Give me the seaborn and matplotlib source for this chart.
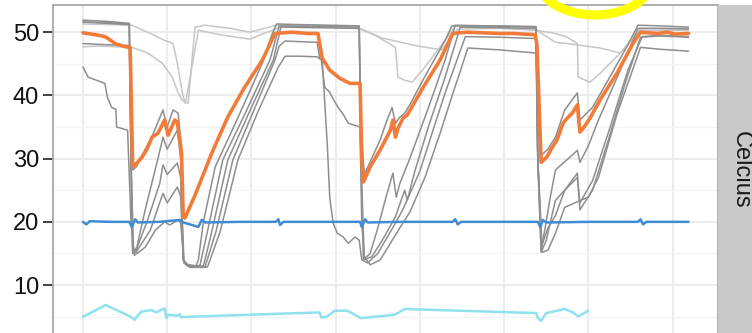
import matplotlib
matplotlib.use("Agg")
import matplotlib.pyplot as plt
from matplotlib.patches import Ellipse
from matplotlib.ticker import MultipleLocator
import pandas as pd
import seaborn as sns

# Time is in days since the start of the log; temperatures in degrees Celsius.

# Highlighted tank sensor
sensor_t = [0.00, 0.15, 0.26, 0.32, 0.38, 0.50, 0.56, 0.59, 0.64, 0.70, 0.76, 0.82, 0.89, 0.97,
            1.01, 1.09, 1.12, 1.17, 1.19, 1.21, 1.33, 1.53, 1.72, 1.92, 2.13, 2.28, 2.48, 2.67,
            2.79, 2.84, 2.93, 3.05, 3.17, 3.29, 3.31, 3.33, 3.41, 3.53, 3.65, 3.68, 3.71, 3.74,
            3.80, 3.85, 4.04, 4.24, 4.39, 4.56, 4.95, 5.10, 5.37, 5.39, 5.44, 5.51, 5.55, 5.63,
            5.70, 5.75, 5.81, 5.87, 5.90, 5.94, 6.02, 6.14, 6.34, 6.53, 6.62, 6.82, 6.94, 7.03, 7.19]
sensor_c = [49.9, 49.6, 49.3, 48.8, 48.2, 47.7, 47.6, 28.7, 29.3, 30.2, 31.5, 33.4, 34.0, 36.1,
            33.7, 36.1, 35.8, 30.9, 20.8, 20.6, 24.2, 30.9, 36.6, 41.3, 45.6, 49.8, 50.0, 49.8,
            49.8, 45.9, 44.0, 42.7, 41.9, 41.9, 30.0, 26.3, 28.7, 31.4, 34.5, 36.1, 33.4, 34.8,
            36.4, 36.9, 41.3, 45.6, 49.8, 50.0, 49.8, 49.8, 49.6, 48.0, 29.4, 30.3, 31.3, 33.0,
            35.6, 36.4, 37.2, 38.5, 34.2, 34.8, 36.4, 39.3, 43.5, 48.2, 50.0, 49.8, 50.0, 49.7, 49.8]

# Other tank sensors
t1_t = [0.00, 0.30, 0.55, 0.57, 0.59, 0.63, 0.80, 0.91, 0.95, 1.00, 1.12, 1.16, 1.19, 1.22, 1.34,
        1.37, 1.43, 1.57, 1.81, 2.13, 2.24, 2.30, 2.58, 2.93, 3.28, 3.30, 3.33, 3.41, 3.50, 3.60,
        3.68, 3.72, 3.76, 3.88, 4.10, 4.30, 4.42, 4.83, 5.38, 5.40, 5.44, 5.50, 5.55, 5.61, 5.72,
        5.87, 5.90, 6.00, 6.12, 6.38, 6.59, 6.85, 7.19]
t1_c = [51.9, 51.7, 51.4, 30.0, 15.0, 15.2, 18.7, 23.0, 24.5, 23.0, 25.5, 24.0, 14.0, 13.3, 12.9,
        14.0, 20.0, 28.7, 35.6, 45.1, 49.5, 51.3, 51.2, 51.1, 51.0, 30.0, 14.0, 15.0, 19.0, 24.0,
        27.7, 23.9, 26.0, 30.0, 38.0, 45.6, 51.1, 51.0, 50.8, 30.0, 15.5, 20.0, 24.0, 28.2, 29.5,
        31.3, 29.4, 32.0, 36.1, 44.0, 50.6, 50.6, 50.5]

t2_t = [0.00, 0.30, 0.55, 0.57, 0.59, 0.63, 0.76, 0.91, 0.95, 1.00, 1.12, 1.16, 1.19, 1.24, 1.37,
        1.39, 1.47, 1.66, 1.92, 2.22, 2.33, 2.70, 3.28, 3.30, 3.34, 3.43, 3.55, 3.71, 3.82, 3.85,
        3.94, 4.10, 4.30, 4.48, 4.95, 5.38, 5.40, 5.44, 5.50, 5.55, 5.61, 5.72, 5.87, 5.90, 6.05,
        6.24, 6.44, 6.62, 6.85, 7.19]
t2_c = [51.6, 51.4, 51.2, 30.0, 15.2, 15.5, 20.0, 26.0, 29.0, 27.5, 29.3, 27.0, 14.0, 13.0, 13.0,
        13.2, 18.0, 29.8, 37.0, 45.6, 51.0, 50.9, 50.8, 30.0, 14.0, 14.5, 17.0, 20.8, 25.0, 23.4,
        28.0, 35.0, 42.9, 50.8, 50.7, 50.6, 30.0, 15.2, 17.0, 20.0, 23.4, 25.0, 27.7, 21.9, 25.0,
        33.0, 42.0, 49.2, 49.4, 49.2]

t3_t = [0.00, 0.30, 0.55, 0.57, 0.59, 0.64, 0.70, 0.82, 0.95, 1.00, 1.07, 1.13, 1.16, 1.18, 1.20,
        1.25, 1.35, 1.45, 1.58, 1.78, 2.04, 2.28, 2.33, 2.40, 2.58, 2.78, 2.81, 2.84, 2.90, 2.93,
        2.97, 3.02, 3.09, 3.15, 3.23, 3.28, 3.31, 3.38, 3.50, 3.61, 3.71, 3.80, 4.00, 4.12, 4.30,
        4.54, 4.95, 5.38, 5.40, 5.45, 5.52, 5.61, 5.72, 5.84, 6.00, 6.12, 6.34, 6.62, 6.85, 7.19]
t3_c = [48.2, 48.0, 47.9, 35.0, 28.2, 28.8, 30.5, 33.5, 37.7, 35.0, 37.7, 37.2, 33.0, 20.0, 13.5,
        13.0, 13.0, 12.9, 18.5, 29.8, 38.0, 45.6, 47.8, 48.6, 48.5, 48.4, 46.0, 45.6, 32.4, 23.9,
        19.8, 18.2, 17.6, 16.6, 17.6, 17.1, 14.0, 13.5, 15.0, 17.5, 19.8, 22.0, 28.0, 33.0, 40.4,
        49.3, 49.2, 49.0, 30.0, 15.2, 15.5, 18.2, 22.3, 23.0, 23.9, 27.0, 37.0, 47.6, 47.3, 47.0]

t4_t = [0.00, 0.06, 0.26, 0.29, 0.34, 0.39, 0.40, 0.53, 0.57, 0.61, 0.74, 0.86, 0.97, 1.03, 1.13,
        1.16, 1.20, 1.27, 1.45, 1.48, 1.63, 1.84, 2.08, 2.32, 2.40, 2.58, 2.78, 2.83, 2.87, 2.93,
        2.96, 3.03, 3.09, 3.15, 3.29, 3.31, 3.34, 3.41, 3.53, 3.65, 3.76, 3.88, 4.06, 4.24, 4.36,
        4.57, 4.95, 5.38, 5.40, 5.45, 5.52, 5.61, 5.72, 5.87, 5.90, 6.05, 6.26, 6.47, 6.64, 6.85, 7.19]
t4_c = [44.5, 42.9, 41.9, 39.7, 38.1, 37.8, 35.0, 34.5, 20.0, 14.7, 16.0, 18.7, 20.0, 19.5, 20.3,
        19.8, 13.5, 12.8, 12.8, 12.9, 18.5, 29.8, 37.5, 44.5, 46.2, 46.2, 46.1, 45.6, 41.3, 40.5,
        39.7, 38.1, 37.0, 35.6, 35.0, 20.0, 14.5, 13.2, 14.0, 16.6, 19.0, 21.5, 27.0, 34.0, 39.0,
        47.5, 47.2, 46.7, 30.0, 16.3, 19.0, 21.0, 25.0, 27.0, 23.0, 26.5, 35.0, 44.0, 49.3, 49.5, 49.3]

t5_t = [0.00, 0.30, 0.55, 0.57, 0.60, 0.64, 0.74, 0.89, 0.95, 1.00, 1.12, 1.16, 1.19, 1.25, 1.39,
        1.43, 1.53, 1.72, 1.98, 2.26, 2.35, 2.81, 3.28, 3.30, 3.34, 3.41, 3.53, 3.61, 3.67, 3.71,
        3.76, 3.82, 3.88, 4.06, 4.30, 4.38, 4.83, 5.38, 5.40, 5.44, 5.52, 5.61, 5.72, 5.87, 5.90,
        6.05, 6.26, 6.47, 6.59, 6.85, 7.19]
t5_c = [51.6, 51.5, 51.3, 30.0, 15.2, 16.0, 22.0, 30.0, 33.4, 31.5, 34.5, 30.0, 14.0, 13.2, 13.0,
        13.0, 18.5, 29.8, 37.5, 45.6, 50.8, 50.7, 50.6, 35.0, 27.5, 29.5, 33.0, 36.1, 38.1, 35.6,
        36.5, 37.2, 38.5, 43.0, 48.7, 51.0, 51.0, 50.9, 35.0, 30.5, 31.5, 33.4, 37.7, 40.4, 36.1,
        38.1, 43.0, 48.0, 51.1, 51.0, 50.8]

# Upper sensors that only cool off slowly between heating cycles
u1_t = [0.00, 0.30, 0.58, 0.80, 0.97, 1.07, 1.12, 1.18, 1.21, 1.25, 1.33, 1.45, 1.75, 1.98, 2.30,
        2.76, 3.27, 3.47, 3.71, 3.74, 3.82, 3.91, 4.06, 4.30, 4.42, 4.95, 5.39, 5.61, 5.75, 5.87,
        5.88, 6.02, 6.14, 6.38, 6.62, 7.19]
u1_c = [51.3, 51.2, 51.1, 49.8, 48.7, 48.2, 45.1, 40.4, 38.8, 38.8, 50.8, 51.1, 50.6, 50.0, 51.1,
        51.1, 50.6, 49.5, 47.6, 42.9, 42.4, 42.1, 44.5, 48.7, 51.0, 50.8, 50.3, 49.8, 49.2, 48.2,
        42.9, 42.1, 43.5, 46.7, 50.6, 50.6]

u2_t = [0.00, 0.20, 0.58, 0.77, 0.94, 1.06, 1.13, 1.18, 1.22, 1.37, 1.63, 1.98, 2.34, 2.76, 3.29,
        3.55, 3.94, 4.26, 4.45, 4.95, 5.39, 5.61, 5.75, 6.14, 6.38, 6.62, 7.19]
u2_c = [47.7, 47.8, 47.6, 46.7, 45.1, 42.9, 40.4, 39.2, 39.0, 50.3, 49.6, 48.9, 50.8, 50.9, 50.6,
        49.1, 47.9, 47.2, 50.5, 50.6, 50.3, 48.4, 48.2, 47.5, 46.7, 50.3, 50.3]

# Room temperature
room_t = [0.00, 0.04, 0.08, 0.32, 0.55, 0.58, 0.62, 0.65, 0.91, 1.15, 1.19, 1.37, 1.41, 1.45, 1.86,
          2.29, 2.32, 2.34, 2.38, 2.93, 3.29, 3.31, 3.35, 3.38, 3.76, 4.39, 4.42, 4.45, 4.49, 4.95,
          5.40, 5.43, 5.46, 5.50, 6.02, 6.59, 6.62, 6.65, 6.69, 7.19]
room_c = [20.0, 19.6, 20.1, 20.0, 20.0, 19.2, 20.4, 19.9, 20.0, 20.3, 19.9, 19.2, 20.3, 19.9, 20.0,
          20.0, 20.4, 19.5, 20.0, 20.0, 20.0, 19.2, 20.4, 19.9, 20.0, 20.0, 20.4, 19.6, 20.0, 20.0,
          20.0, 19.2, 20.3, 19.9, 20.0, 20.0, 20.4, 19.6, 20.0, 20.0]

# Cold water inlet
inlet_t = [0.00, 0.27, 0.57, 0.61, 0.69, 0.81, 0.87, 0.97, 0.99, 1.01, 1.13, 1.15, 1.17, 1.21,
           2.81, 2.83, 2.89, 2.99, 3.14, 3.30, 3.70, 3.82, 5.38, 5.40, 5.44, 5.50, 5.72, 5.82,
           5.88, 6.00]
inlet_c = [4.97, 6.85, 4.97, 4.50, 5.78, 6.05, 5.67, 6.32, 4.77, 5.30, 5.15, 5.40, 4.87, 4.97,
           5.67, 4.87, 4.97, 5.94, 5.94, 4.77, 5.30, 6.21, 5.57, 4.77, 4.34, 5.57, 6.21, 5.67,
           5.03, 5.94]

LIGHT, DARK = "#c6c6c6", "#8e8e8e"
series = [
    ("upper 1", u1_t, u1_c, LIGHT, 1.1),
    ("upper 2", u2_t, u2_c, LIGHT, 1.1),
    ("tank 1", t1_t, t1_c, DARK, 1.1),
    ("tank 2", t2_t, t2_c, DARK, 1.1),
    ("tank 3", t3_t, t3_c, DARK, 1.1),
    ("tank 4", t4_t, t4_c, DARK, 1.1),
    ("tank 5", t5_t, t5_c, DARK, 1.1),
    ("sensor", sensor_t, sensor_c, "#f27b3a", 2.6),
    ("room", room_t, room_c, "#3f8bd4", 1.8),
    ("inlet", inlet_t, inlet_c, "#8fe1ee", 1.8),
]

frames = [pd.DataFrame({"day": t, "celsius": c, "probe": name}) for name, t, c, _, _ in series]
df = pd.concat(frames, ignore_index=True)

sns.set_theme(style="white")
plt.rcParams["font.family"] = ["Liberation Sans", "DejaVu Sans"]

W, H = 752, 333
fig = plt.figure(figsize=(W / 100, H / 100), dpi=100)
fig.patch.set_facecolor("white")

# Panel: top edge near the top of the figure, bottom edge just below the canvas
left, right, top, bottom = 53, 718, 5, 335
ax = fig.add_axes([left / W, 1 - bottom / H, (right - left) / W, (bottom - top) / H])
ax.set_facecolor("white")

for name, _, _, color, lw in series:
    sns.lineplot(data=df[df["probe"] == name], x="day", y="celsius", color=color,
                 linewidth=lw, estimator=None, sort=False, legend=False, ax=ax)

ax.set_xlim(-0.356, 7.54)
ax.set_ylim(2.1, 54.3)
ax.set_yticks([10, 20, 30, 40, 50])
ax.yaxis.set_minor_locator(MultipleLocator(5))
ax.set_xticks(range(8))
ax.grid(which="major", color="#ebebeb", linewidth=1.3)
ax.grid(which="minor", axis="y", color="#f4f4f4", linewidth=0.9)
ax.set_axisbelow(True)
ax.set_xlabel("")
ax.set_ylabel("")
ax.tick_params(axis="y", which="major", left=True, length=7, width=1.3, color="#333333",
               labelsize=17, labelcolor="#111111", pad=3)
ax.tick_params(axis="y", which="minor", left=False)
ax.tick_params(axis="x", bottom=False, labelbottom=False)
for side in ("left", "top", "right"):
    ax.spines[side].set_color("#a8a8a8")
    ax.spines[side].set_linewidth(1.3)
ax.spines["bottom"].set_visible(False)

# Facet strip on the right
strip = fig.add_axes([right / W, 1 - bottom / H, 46 / W, (bottom - top) / H])
strip.set_facecolor("#c9c9c9")
strip.set_xticks([])
strip.set_yticks([])
for s in strip.spines.values():
    s.set_visible(False)
strip.text(0.5, 0.5, "Celcius", rotation=-90, ha="center", va="center",
           fontsize=17, color="#1a1a1a", transform=strip.transAxes)

# Yellow highlight ring at the top edge
ring = Ellipse((595 / W, (H + 20) / H), width=113 / W, height=70 / H,
               transform=fig.transFigure, fill=False, edgecolor="#ffff00",
               linewidth=6.5, clip_on=False)
fig.add_artist(ring)

fig.savefig("out.png", dpi=100)
